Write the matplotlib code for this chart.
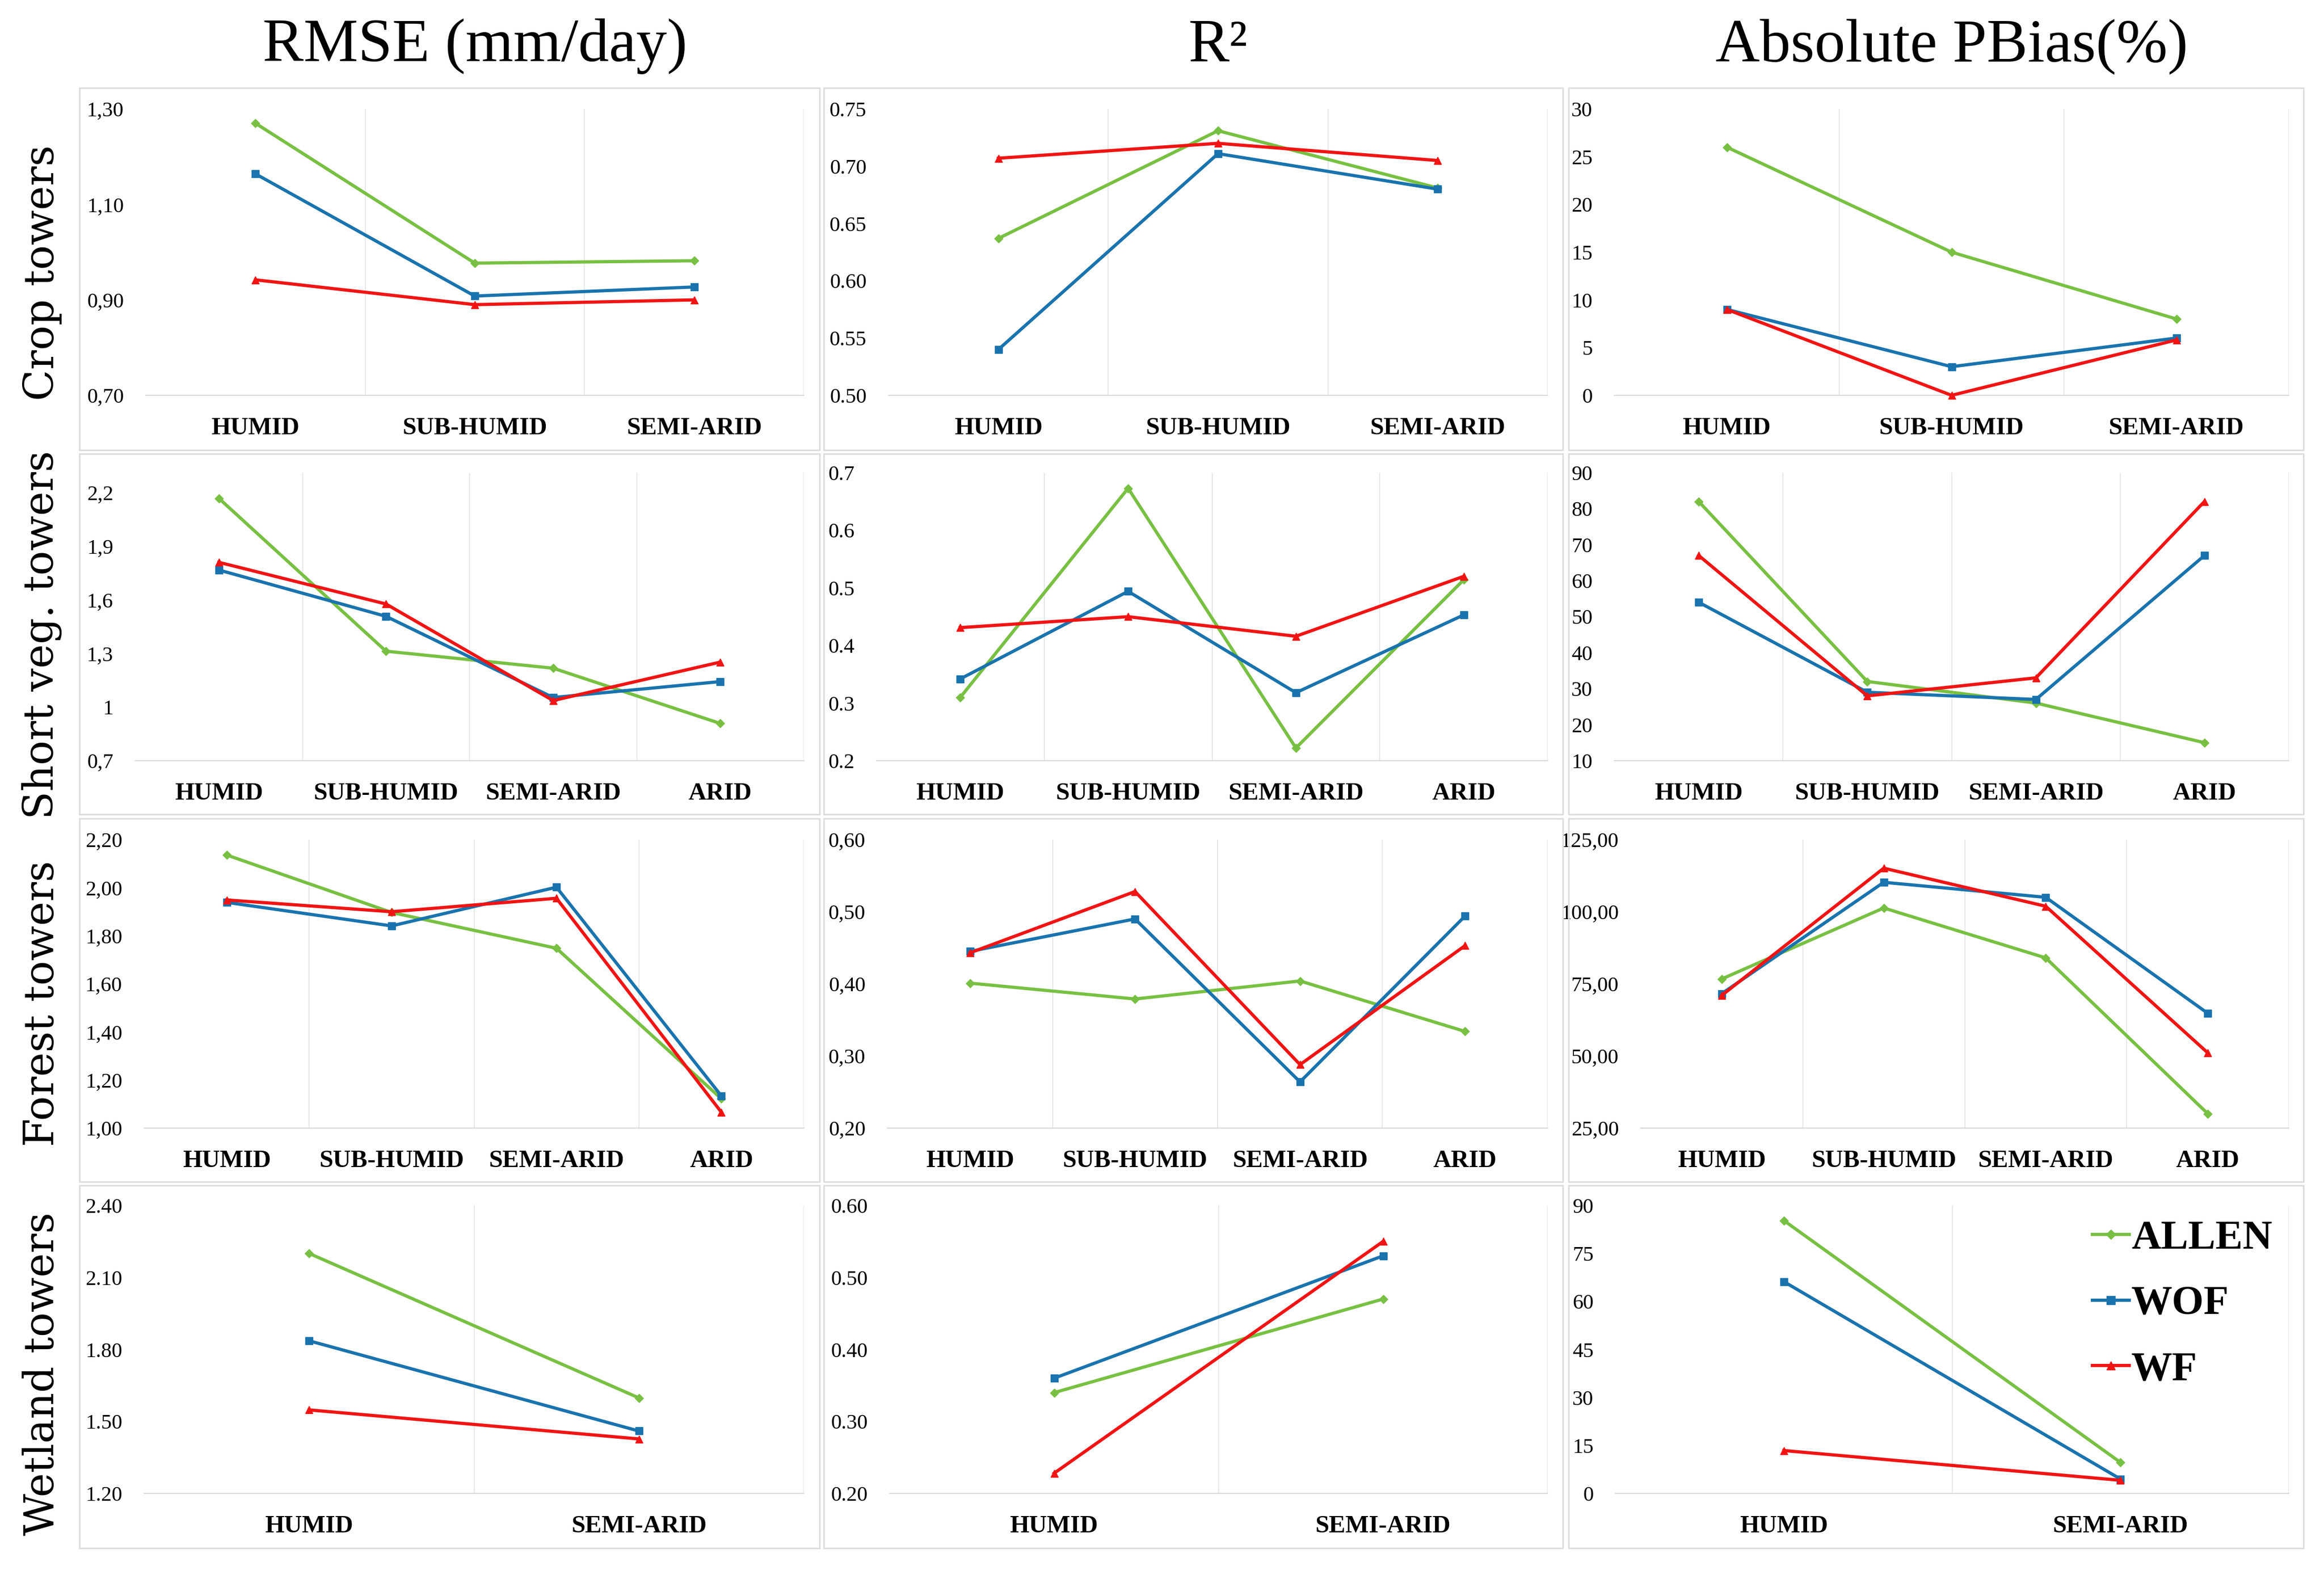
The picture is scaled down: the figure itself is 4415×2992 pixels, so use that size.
import numpy as np
import matplotlib
matplotlib.use("Agg")
import matplotlib.pyplot as plt
from matplotlib.patches import Rectangle

# metricas de ET por tipo de torre y clima

W, H = 4415, 2992

series = ["ALLEN", "WOF", "WF"]
colores = ["#78C043", "#1A73AD", "#F01414"]
marcas = ["D", "s", "^"]

cols = ["RMSE (mm/day)", "R²", "Absolute PBias(%)"]
filas = ["Crop towers", "Short veg. towers", "Forest towers", "Wetland towers"]

cat3 = ["HUMID", "SUB-HUMID", "SEMI-ARID"]
cat4 = ["HUMID", "SUB-HUMID", "SEMI-ARID", "ARID"]
cat2 = ["HUMID", "SEMI-ARID"]

# crop towers
crop_rmse = [[1.27, 0.977, 0.982], [1.164, 0.908, 0.927], [0.942, 0.89, 0.90]]
crop_r2 = [[0.637, 0.731, 0.681], [0.54, 0.711, 0.68], [0.707, 0.72, 0.705]]
crop_pbias = [[26, 15, 8], [9, 3, 6], [9, 0, 5.8]]
# short vegetation towers
short_rmse = [[2.167, 1.312, 1.217, 0.908], [1.766, 1.507, 1.053, 1.142], [1.809, 1.576, 1.036, 1.251]]
short_r2 = [[0.31, 0.673, 0.222, 0.514], [0.342, 0.494, 0.318, 0.453], [0.431, 0.45, 0.416, 0.52]]
short_pbias = [[82, 32, 26, 15], [54, 29, 27, 67], [67, 28, 33, 82]]
# forest towers
forest_rmse = [[2.136, 1.897, 1.748, 1.122], [1.939, 1.841, 2.002, 1.134], [1.949, 1.90, 1.956, 1.066]]
forest_r2 = [[0.401, 0.379, 0.404, 0.334], [0.445, 0.49, 0.264, 0.494], [0.443, 0.528, 0.288, 0.453]]
forest_pbias = [[76.7, 101.3, 84, 30], [71.6, 110.2, 105, 64.8], [71, 115.1, 101.9, 51.1]]
# wetland towers
wet_rmse = [[2.20, 1.598], [1.836, 1.46], [1.548, 1.427]]
wet_r2 = [[0.34, 0.47], [0.36, 0.53], [0.228, 0.55]]
wet_pbias = [[85.3, 9.7], [66.2, 4.5], [13.4, 4.1]]

# ticks y etiquetas del eje y
t_crop_rmse = [0.70, 0.90, 1.10, 1.30]
l_crop_rmse = ["0,70", "0,90", "1,10", "1,30"]
t_crop_r2 = [0.50, 0.55, 0.60, 0.65, 0.70, 0.75]
l_crop_r2 = ["0.50", "0.55", "0.60", "0.65", "0.70", "0.75"]
t_crop_pb = [0, 5, 10, 15, 20, 25, 30]
l_crop_pb = ["0", "5", "10", "15", "20", "25", "30"]

t_short_rmse = [0.7, 1.0, 1.3, 1.6, 1.9, 2.2]
l_short_rmse = ["0,7", "1", "1,3", "1,6", "1,9", "2,2"]
t_short_r2 = [0.2, 0.3, 0.4, 0.5, 0.6, 0.7]
l_short_r2 = ["0.2", "0.3", "0.4", "0.5", "0.6", "0.7"]
t_short_pb = [10, 20, 30, 40, 50, 60, 70, 80, 90]
l_short_pb = ["10", "20", "30", "40", "50", "60", "70", "80", "90"]

t_forest_rmse = [1.0, 1.2, 1.4, 1.6, 1.8, 2.0, 2.2]
l_forest_rmse = ["1,00", "1,20", "1,40", "1,60", "1,80", "2,00", "2,20"]
t_forest_r2 = [0.2, 0.3, 0.4, 0.5, 0.6]
l_forest_r2 = ["0,20", "0,30", "0,40", "0,50", "0,60"]
t_forest_pb = [25, 50, 75, 100, 125]
l_forest_pb = ["25,00", "50,00", "75,00", "100,00", "125,00"]

t_wet_rmse = [1.2, 1.5, 1.8, 2.1, 2.4]
l_wet_rmse = ["1.20", "1.50", "1.80", "2.10", "2.40"]
t_wet_r2 = [0.2, 0.3, 0.4, 0.5, 0.6]
l_wet_r2 = ["0.20", "0.30", "0.40", "0.50", "0.60"]
t_wet_pb = [0, 15, 30, 45, 60, 75, 90]
l_wet_pb = ["0", "15", "30", "45", "60", "75", "90"]

paneles = [
    [(cat3, crop_rmse, t_crop_rmse, l_crop_rmse, None),
     (cat3, crop_r2, t_crop_r2, l_crop_r2, None),
     (cat3, crop_pbias, t_crop_pb, l_crop_pb, None)],
    [(cat4, short_rmse, t_short_rmse, l_short_rmse, 2.31),
     (cat4, short_r2, t_short_r2, l_short_r2, None),
     (cat4, short_pbias, t_short_pb, l_short_pb, None)],
    [(cat4, forest_rmse, t_forest_rmse, l_forest_rmse, None),
     (cat4, forest_r2, t_forest_r2, l_forest_r2, None),
     (cat4, forest_pbias, t_forest_pb, l_forest_pb, None)],
    [(cat2, wet_rmse, t_wet_rmse, l_wet_rmse, None),
     (cat2, wet_r2, t_wet_r2, l_wet_r2, None),
     (cat2, wet_pbias, t_wet_pb, l_wet_pb, None)],
]

# posiciones en pixeles
filas_y = [(207, 751), (898, 1445), (1595, 2143), (2290, 2837)]
lefts = [[277, 1688, 3067], [257, 1665, 3067], [274, 1686, 3117], [274, 1690, 3069]]
rights = [1527, 2940, 4348]
cajas_x = [(151, 1557), (1565, 2969), (2980, 4376)]
cajas_y = [(167, 855), (862, 1547), (1555, 2245), (2252, 2941)]
fila_lab_y = [518, 1206, 1906, 2610]

plt.rcParams["font.family"] = "Liberation Serif"

fig = plt.figure(figsize=(W / 100, H / 100), dpi=100)

for i in range(4):
    for j in range(3):
        cx0, cx1 = cajas_x[j]
        cy0, cy1 = cajas_y[i]
        fig.add_artist(Rectangle((cx0 / W, 1 - cy1 / H), (cx1 - cx0) / W, (cy1 - cy0) / H,
                                 transform=fig.transFigure, fill=False,
                                 edgecolor="#DCDCDC", lw=2))

        cats, datos, ticks, labs, ymax = paneles[i][j]
        top, bot = filas_y[i]
        l = lefts[i][j]
        r = rights[j]
        ax = fig.add_axes([l / W, 1 - bot / H, (r - l) / W, (bot - top) / H])
        n = len(cats)
        x = np.arange(n) + 0.5
        for k in range(3):
            ax.plot(x, datos[k], color=colores[k], marker=marcas[k], lw=4.4,
                    markersize=10 if marcas[k] != "D" else 8, label=series[k],
                    clip_on=False, zorder=3 + k)
        for g in range(1, n + 1):
            ax.axvline(g, color="#E3E3E3", lw=1.2, zorder=1)
        ax.set_xlim(0, n)
        ax.set_ylim(ticks[0], ymax if ymax else ticks[-1])
        ax.set_yticks(ticks)
        ax.set_yticklabels(labs, fontsize=29)
        ax.set_xticks(x)
        ax.set_xticklabels(cats, fontsize=34, fontweight="bold")
        ax.tick_params(axis="y", length=0, pad=30)
        ax.tick_params(axis="x", length=0, pad=30)
        for s in ["left", "right", "top"]:
            ax.spines[s].set_visible(False)
        ax.spines["bottom"].set_color("#D9D9D9")
        ax.spines["bottom"].set_linewidth(1.5)

        if i == 3 and j == 2:
            ax.legend(loc="upper left", bbox_to_anchor=(3975 / W, 1 - 2318 / H),
                      bbox_transform=fig.transFigure, frameon=False,
                      prop={"size": 56, "weight": "bold"}, handlelength=0.9,
                      handletextpad=0.05, labelspacing=0.68, borderpad=0,
                      borderaxespad=0, markerscale=1.2)

for j in range(3):
    xc = (lefts[0][j] + rights[j]) / 2
    fig.text(xc / W, 1 - 88 / H, cols[j], fontsize=84, ha="center", va="center")

for i in range(4):
    fig.text(80 / W, 1 - fila_lab_y[i] / H, filas[i], fontsize=56, rotation=90,
             ha="center", va="center", family="DejaVu Serif")

fig.savefig("out.png", dpi=100)
